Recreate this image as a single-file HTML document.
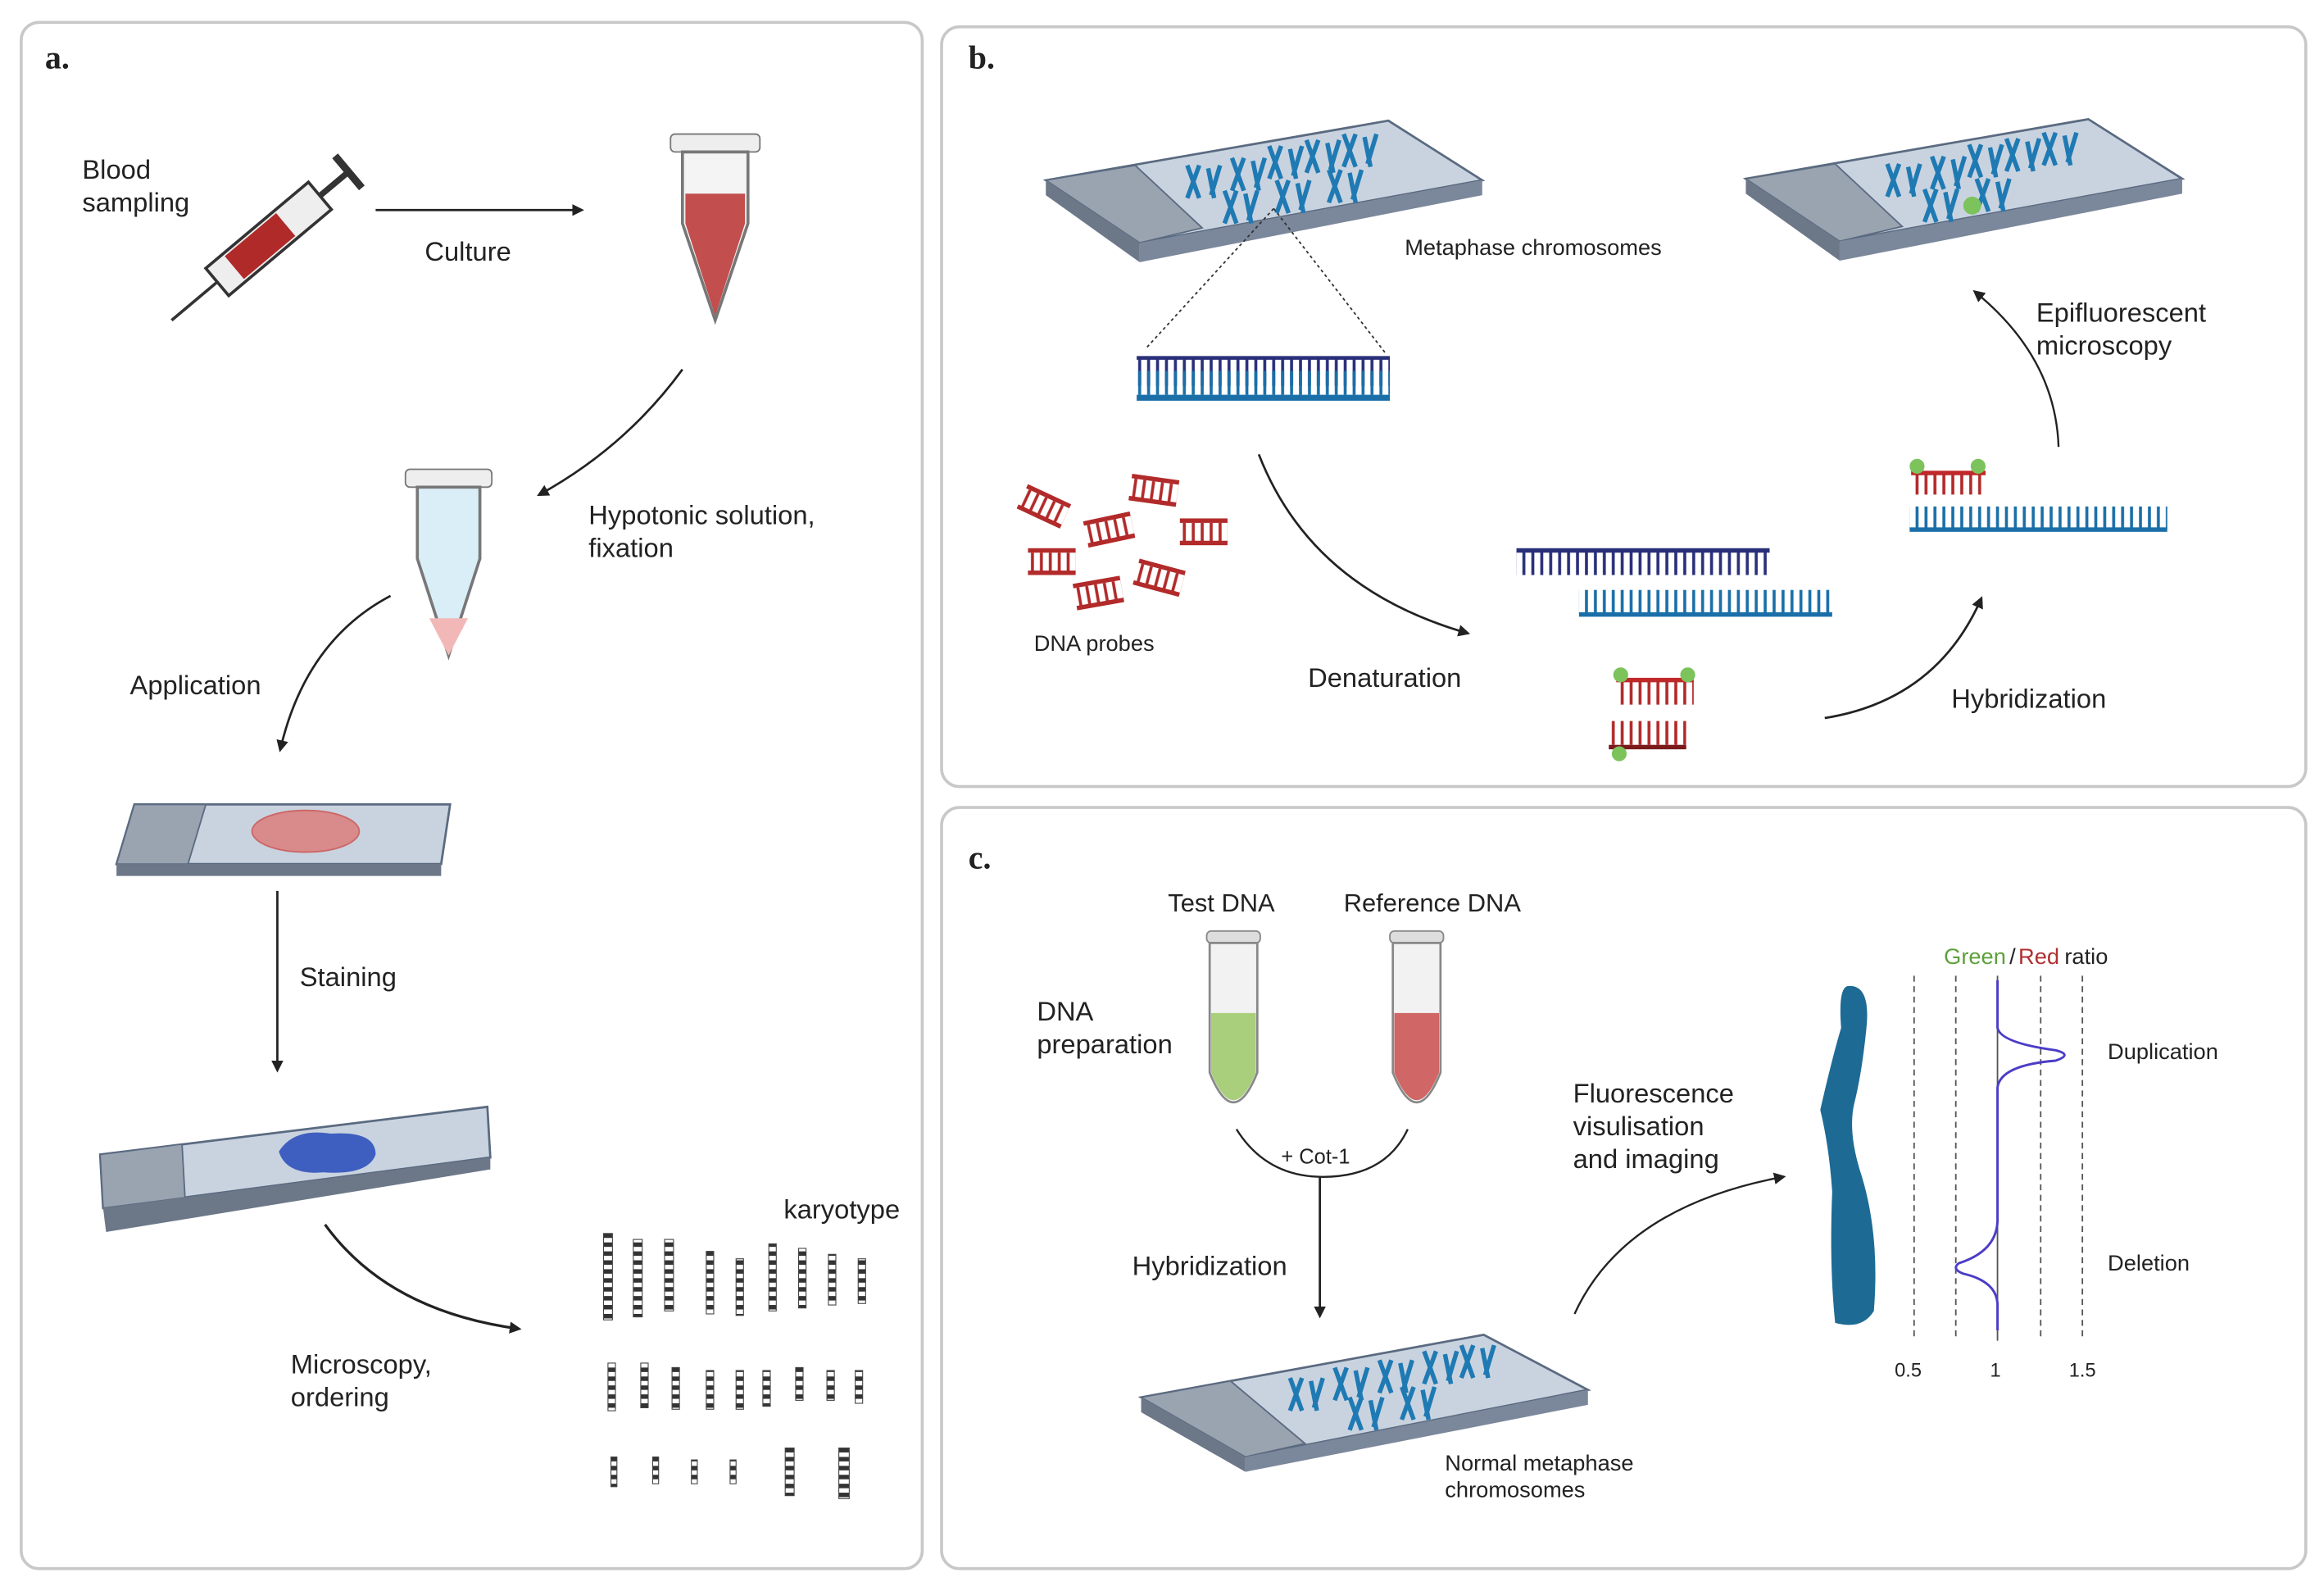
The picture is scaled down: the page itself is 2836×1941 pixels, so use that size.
<!DOCTYPE html>
<html><head><meta charset="utf-8"><style>
html,body{margin:0;padding:0;background:#fff}
svg{display:block}
text{font-family:"Liberation Sans",sans-serif;fill:#222}
</style></head><body>
<svg width="2836" height="1941" viewBox="0 0 1560 1068" xmlns="http://www.w3.org/2000/svg">
<defs>
<marker id="ah" markerWidth="8" markerHeight="8" refX="6" refY="4" orient="auto" markerUnits="userSpaceOnUse"><path d="M0,0 L8,4 L0,8 Z" fill="#222"/></marker>
<pattern id="dna" width="6" height="20" patternUnits="userSpaceOnUse"><rect x="2" y="0" width="2" height="20" fill="#1a6fa8"/></pattern>
<pattern id="dnaN" width="6" height="20" patternUnits="userSpaceOnUse"><rect x="2" y="0" width="2" height="20" fill="#2a2f7a"/></pattern>
<pattern id="dnaR" width="6" height="20" patternUnits="userSpaceOnUse"><rect x="2" y="0" width="2" height="20" fill="#b22a2a"/></pattern>
<pattern id="band" width="6" height="6" patternUnits="userSpaceOnUse"><rect width="6" height="3" fill="#333"/></pattern>
<g id="chr">
<path d="M0,0 l8,22 M8,0 l-8,22 M14,2 l4,20 M22,0 l-6,20" stroke="#1f7ab3" stroke-width="3" fill="none"/>
</g>
</defs>

<rect x="14" y="15" width="605" height="1038" rx="12" fill="#fff" stroke="#c8c8c8" stroke-width="2"/>
<rect x="632" y="18" width="916" height="510" rx="12" fill="#fff" stroke="#c8c8c8" stroke-width="2"/>
<rect x="632" y="542" width="916" height="511" rx="12" fill="#fff" stroke="#c8c8c8" stroke-width="2"/>
<text x="30" y="46" font-size="22" font-weight="bold" style="font-family:'Liberation Serif',serif">a.</text>
<text x="650" y="46" font-size="22" font-weight="bold" style="font-family:'Liberation Serif',serif">b.</text>
<text x="650" y="583" font-size="22" font-weight="bold" style="font-family:'Liberation Serif',serif">c.</text>

<!-- Panel a -->
<text x="55" y="120" font-size="18">Blood</text>
<text x="55" y="142" font-size="18">sampling</text>
<g transform="translate(115,215) rotate(-40)">
<line x1="0" y1="0" x2="40" y2="0" stroke="#333" stroke-width="2"/>
<rect x="40" y="-12" width="90" height="24" fill="#eee" stroke="#333" stroke-width="2"/>
<rect x="55" y="-10" width="45" height="20" fill="#b02a2a"/>
<line x1="130" y1="0" x2="155" y2="0" stroke="#333" stroke-width="4"/>
<line x1="155" y1="-14" x2="155" y2="14" stroke="#333" stroke-width="5"/>
</g>
<line x1="252" y1="141" x2="390" y2="141" stroke="#222" stroke-width="1.5" marker-end="url(#ah)"/>
<text x="285" y="175" font-size="18">Culture</text>
<g transform="translate(450,90)">
<rect x="0" y="0" width="60" height="12" rx="3" fill="#eee" stroke="#777"/>
<path d="M8,12 L52,12 L52,60 L30,125 L8,60 Z" fill="#f4f4f4" stroke="#777" stroke-width="2"/>
<path d="M10,40 L50,40 L50,60 L30,122 L10,60 Z" fill="#c24e4e"/>
</g>
<path d="M458,248 Q420,300 362,332" fill="none" stroke="#222" stroke-width="1.5" marker-end="url(#ah)"/>
<text x="395" y="352" font-size="18">Hypotonic solution,</text>
<text x="395" y="374" font-size="18">fixation</text>
<g transform="translate(272,315)">
<rect x="0" y="0" width="58" height="12" rx="3" fill="#eee" stroke="#777"/>
<path d="M8,12 L50,12 L50,60 L29,125 L8,60 Z" fill="#daeef8" stroke="#777" stroke-width="2"/>
<path d="M16,100 L42,100 L29,125 Z" fill="#f2b8b8"/>
</g>
<path d="M262,400 Q205,430 188,503" fill="none" stroke="#222" stroke-width="1.5" marker-end="url(#ah)"/>
<text x="87" y="466" font-size="18">Application</text>
<g>
<polygon points="78,580 90,540 302,540 296,580" fill="#c9d3e0" stroke="#5a6a80" stroke-width="1.5"/>
<polygon points="78,580 90,540 138,540 126,580" fill="#9aa3b0" stroke="#5a6a80"/>
<rect x="78" y="580" width="218" height="8" fill="#6c7788"/>
<ellipse cx="205" cy="558" rx="36" ry="14" fill="#d98a8a" stroke="#c66"/>
</g>
<line x1="186" y1="598" x2="186" y2="718" stroke="#222" stroke-width="1.5" marker-end="url(#ah)"/>
<text x="201" y="662" font-size="18">Staining</text>
<g transform="translate(67,745)">
<polygon points="0,30 260,-2 262,32 2,66 " fill="#c9d3e0" stroke="#5a6a80" stroke-width="1.5"/>
<polygon points="0,30 55,23 57,59 2,66" fill="#9aa3b0" stroke="#5a6a80"/>
<polygon points="2,66 262,32 262,40 4,82" fill="#6c7788"/>
<path d="M120,28 Q130,12 155,16 Q185,14 185,30 Q180,44 150,42 Q125,44 120,28Z" fill="#3f5fc0"/>
</g>
<path d="M218,822 Q260,880 348,892" fill="none" stroke="#222" stroke-width="1.8" marker-end="url(#ah)"/>
<text x="195" y="922" font-size="18">Microscopy,</text>
<text x="195" y="944" font-size="18">ordering</text>
<text x="526" y="818" font-size="18">karyotype</text>
<g fill="url(#band)" stroke="#444" stroke-width="0.6">
<rect x="405" y="828" width="6" height="58"/><rect x="425" y="832" width="6" height="52"/><rect x="446" y="832" width="6" height="48"/>
<rect x="474" y="840" width="5" height="42"/><rect x="494" y="845" width="5" height="38"/><rect x="516" y="835" width="5" height="45"/>
<rect x="536" y="838" width="5" height="40"/><rect x="556" y="842" width="5" height="34"/><rect x="576" y="845" width="5" height="30"/>
<rect x="408" y="915" width="5" height="32"/><rect x="430" y="915" width="5" height="30"/><rect x="451" y="918" width="5" height="28"/>
<rect x="474" y="920" width="5" height="26"/><rect x="494" y="920" width="5" height="26"/><rect x="512" y="920" width="5" height="24"/>
<rect x="534" y="918" width="5" height="22"/><rect x="555" y="920" width="5" height="20"/><rect x="574" y="920" width="5" height="22"/>
<rect x="410" y="978" width="4" height="20"/><rect x="438" y="978" width="4" height="18"/><rect x="464" y="980" width="4" height="16"/>
<rect x="490" y="980" width="4" height="16"/><rect x="527" y="972" width="6" height="32"/><rect x="563" y="972" width="7" height="34"/>
</g>

<!-- Panel b -->
<g transform="translate(702,76)">
<polygon points="0,45 230,5 293,45 63,87" fill="#c9d3e0" stroke="#5a6a80" stroke-width="1.5"/>
<polygon points="0,45 60,35 105,77 63,87" fill="#9aa3b0" stroke="#5a6a80"/>
<polygon points="0,45 63,87 63,100 0,55" fill="#6c7788"/>
<polygon points="63,87 293,45 293,55 63,100" fill="#7b879a"/>
<use href="#chr" x="95" y="35"/><use href="#chr" x="125" y="30"/><use href="#chr" x="150" y="22"/><use href="#chr" x="175" y="18"/><use href="#chr" x="200" y="14"/><use href="#chr" x="120" y="52"/><use href="#chr" x="155" y="45"/><use href="#chr" x="190" y="38"/>
</g>
<text x="943" y="171" font-size="15">Metaphase chromosomes</text>
<line x1="855" y1="140" x2="770" y2="233" stroke="#333" stroke-dasharray="2,2"/>
<line x1="855" y1="140" x2="930" y2="237" stroke="#333" stroke-dasharray="2,2"/>
<rect x="763" y="239" width="170" height="2.5" fill="#2a2f7a"/><rect x="763" y="241" width="170" height="18" fill="url(#dnaN)"/>
<rect x="763" y="265" width="170" height="4" fill="#1a6fa8"/><rect x="763" y="249" width="170" height="16" fill="url(#dna)"/>
<g transform="translate(1172,75)">
<polygon points="0,45 230,5 293,45 63,87" fill="#c9d3e0" stroke="#5a6a80" stroke-width="1.5"/>
<polygon points="0,45 60,35 105,77 63,87" fill="#9aa3b0" stroke="#5a6a80"/>
<polygon points="0,45 63,87 63,100 0,55" fill="#6c7788"/>
<polygon points="63,87 293,45 293,55 63,100" fill="#7b879a"/>
<use href="#chr" x="95" y="35"/><use href="#chr" x="125" y="30"/><use href="#chr" x="150" y="22"/><use href="#chr" x="175" y="18"/><use href="#chr" x="200" y="14"/><use href="#chr" x="120" y="52"/><use href="#chr" x="155" y="45"/>
<circle cx="152" cy="63" r="6" fill="#7cc35c"/>
</g>
<path d="M1382,300 Q1380,240 1326,196" fill="none" stroke="#222" stroke-width="1.3" marker-end="url(#ah)"/>
<text x="1367" y="216" font-size="18">Epifluorescent</text>
<text x="1367" y="238" font-size="18">microscopy</text>
<g fill="#b22a2a">
<g transform="translate(690,325) rotate(25)"><rect width="32" height="3"/><rect y="3" width="32" height="14" fill="url(#dnaR)"/><rect y="15" width="32" height="3"/></g>
<g transform="translate(760,318) rotate(8)"><rect width="32" height="3"/><rect y="3" width="32" height="14" fill="url(#dnaR)"/><rect y="15" width="32" height="3"/></g>
<g transform="translate(727,350) rotate(-12)"><rect width="32" height="3"/><rect y="3" width="32" height="14" fill="url(#dnaR)"/><rect y="15" width="32" height="3"/></g>
<g transform="translate(792,348)"><rect width="32" height="3"/><rect y="3" width="32" height="14" fill="url(#dnaR)"/><rect y="15" width="32" height="3"/></g>
<g transform="translate(690,368)"><rect width="32" height="3"/><rect y="3" width="32" height="14" fill="url(#dnaR)"/><rect y="15" width="32" height="3"/></g>
<g transform="translate(765,375) rotate(15)"><rect width="32" height="3"/><rect y="3" width="32" height="14" fill="url(#dnaR)"/><rect y="15" width="32" height="3"/></g>
<g transform="translate(720,392) rotate(-10)"><rect width="32" height="3"/><rect y="3" width="32" height="14" fill="url(#dnaR)"/><rect y="15" width="32" height="3"/></g>
</g>
<text x="694" y="437" font-size="15">DNA probes</text>
<path d="M845,305 Q880,395 985,425" fill="none" stroke="#222" stroke-width="1.5" marker-end="url(#ah)"/>
<text x="878" y="461" font-size="18">Denaturation</text>
<rect x="1018" y="368" width="170" height="3" fill="#2a2f7a"/><rect x="1018" y="370" width="170" height="16" fill="url(#dnaN)"/>
<rect x="1060" y="411" width="170" height="3" fill="#1a6fa8"/><rect x="1060" y="396" width="170" height="16" fill="url(#dna)"/>
<rect x="1085" y="455" width="52" height="3" fill="#c0282a"/><rect x="1085" y="457" width="52" height="16" fill="url(#dnaR)"/>
<circle cx="1088" cy="453" r="5" fill="#7cc35c"/><circle cx="1133" cy="453" r="5" fill="#7cc35c"/>
<rect x="1080" y="500" width="52" height="3" fill="#7a1a1a"/><rect x="1080" y="484" width="52" height="16" fill="url(#dnaR)"/>
<circle cx="1087" cy="506" r="5" fill="#7cc35c"/>
<path d="M1225,482 Q1300,470 1330,402" fill="none" stroke="#222" stroke-width="1.5" marker-end="url(#ah)"/>
<text x="1310" y="475" font-size="18">Hybridization</text>
<rect x="1283" y="316" width="50" height="3" fill="#c0282a"/><rect x="1283" y="318" width="50" height="14" fill="url(#dnaR)"/>
<circle cx="1287" cy="313" r="5" fill="#7cc35c"/><circle cx="1328" cy="313" r="5" fill="#7cc35c"/>
<rect x="1282" y="354" width="173" height="3" fill="#1a6fa8"/><rect x="1282" y="340" width="173" height="15" fill="url(#dna)"/>

<!-- Panel c -->
<text x="784" y="612" font-size="17">Test DNA</text>
<text x="902" y="612" font-size="17">Reference DNA</text>
<text x="696" y="685" font-size="18">DNA</text>
<text x="696" y="707" font-size="18">preparation</text>
<g transform="translate(810,625)">
<rect x="0" y="0" width="36" height="8" rx="3" fill="#ddd" stroke="#888"/>
<path d="M2,8 L34,8 L34,95 Q18,135 2,95 Z" fill="#f2f2f2" stroke="#888" stroke-width="1.5"/>
<path d="M3,55 L33,55 L33,95 Q18,132 3,95 Z" fill="#a9cf7c"/>
</g>
<g transform="translate(933,625)">
<rect x="0" y="0" width="36" height="8" rx="3" fill="#ddd" stroke="#888"/>
<path d="M2,8 L34,8 L34,95 Q18,135 2,95 Z" fill="#f2f2f2" stroke="#888" stroke-width="1.5"/>
<path d="M3,55 L33,55 L33,95 Q18,132 3,95 Z" fill="#d06666"/>
</g>
<path d="M830,758 Q850,790 888,790 Q930,790 945,758" fill="none" stroke="#222" stroke-width="1.3"/>
<text x="860" y="781" font-size="14">+ Cot-1</text>
<line x1="886" y1="790" x2="886" y2="883" stroke="#222" stroke-width="1.5" marker-end="url(#ah)"/>
<text x="760" y="856" font-size="18">Hybridization</text>
<g transform="translate(766,893)">
<polygon points="0,45 230,3 300,40 70,85" fill="#c9d3e0" stroke="#5a6a80" stroke-width="1.5"/>
<polygon points="0,45 60,34 110,76 70,85" fill="#9aa3b0" stroke="#5a6a80"/>
<polygon points="0,45 70,85 70,95 0,55" fill="#6c7788"/>
<polygon points="70,85 300,40 300,50 70,95" fill="#7b879a"/>
<use href="#chr" x="100" y="32"/><use href="#chr" x="130" y="25"/><use href="#chr" x="160" y="20"/><use href="#chr" x="190" y="14"/><use href="#chr" x="215" y="10"/><use href="#chr" x="140" y="45"/><use href="#chr" x="175" y="38"/>
</g>
<text x="970" y="987" font-size="15">Normal metaphase</text>
<text x="970" y="1005" font-size="15">chromosomes</text>
<path d="M1057,882 Q1090,810 1197,790" fill="none" stroke="#222" stroke-width="1.3" marker-end="url(#ah)"/>
<text x="1056" y="740" font-size="18">Fluorescence</text>
<text x="1056" y="762" font-size="18">visulisation</text>
<text x="1056" y="784" font-size="18">and imaging</text>
<path d="M1240,662 Q1256,660 1253,690 Q1250,720 1245,740 Q1240,760 1250,790 Q1262,830 1258,880 Q1250,893 1232,888 Q1228,850 1230,800 Q1228,770 1222,745 Q1230,710 1236,690 Q1234,664 1240,662 Z" fill="#1d6b95"/>
<g stroke="#555" stroke-dasharray="4,3" stroke-width="1">
<line x1="1285" y1="655" x2="1285" y2="900"/><line x1="1313" y1="655" x2="1313" y2="900"/>
<line x1="1370" y1="655" x2="1370" y2="900"/><line x1="1398" y1="655" x2="1398" y2="900"/>
</g>
<line x1="1341" y1="655" x2="1341" y2="900" stroke="#555" stroke-width="1"/>
<path d="M1341,658 L1341,690 Q1343,700 1380,705 Q1392,708 1380,712 Q1343,715 1341,730 L1341,820 Q1340,840 1315,848 Q1310,852 1318,855 Q1340,860 1341,875 L1341,893" fill="none" stroke="#4b3cc8" stroke-width="1.6"/>
<text x="1305" y="647" font-size="15" style="fill:#5da03b">Green</text><text x="1349" y="647" font-size="15">/</text><text x="1355" y="647" font-size="15" style="fill:#b03030">Red</text><text x="1386" y="647" font-size="15"> ratio</text>
<text x="1415" y="711" font-size="15">Duplication</text>
<text x="1415" y="853" font-size="15">Deletion</text>
<text x="1272" y="924" font-size="13">0.5</text>
<text x="1336" y="924" font-size="13">1</text>
<text x="1389" y="924" font-size="13">1.5</text>
</svg>
</body></html>
